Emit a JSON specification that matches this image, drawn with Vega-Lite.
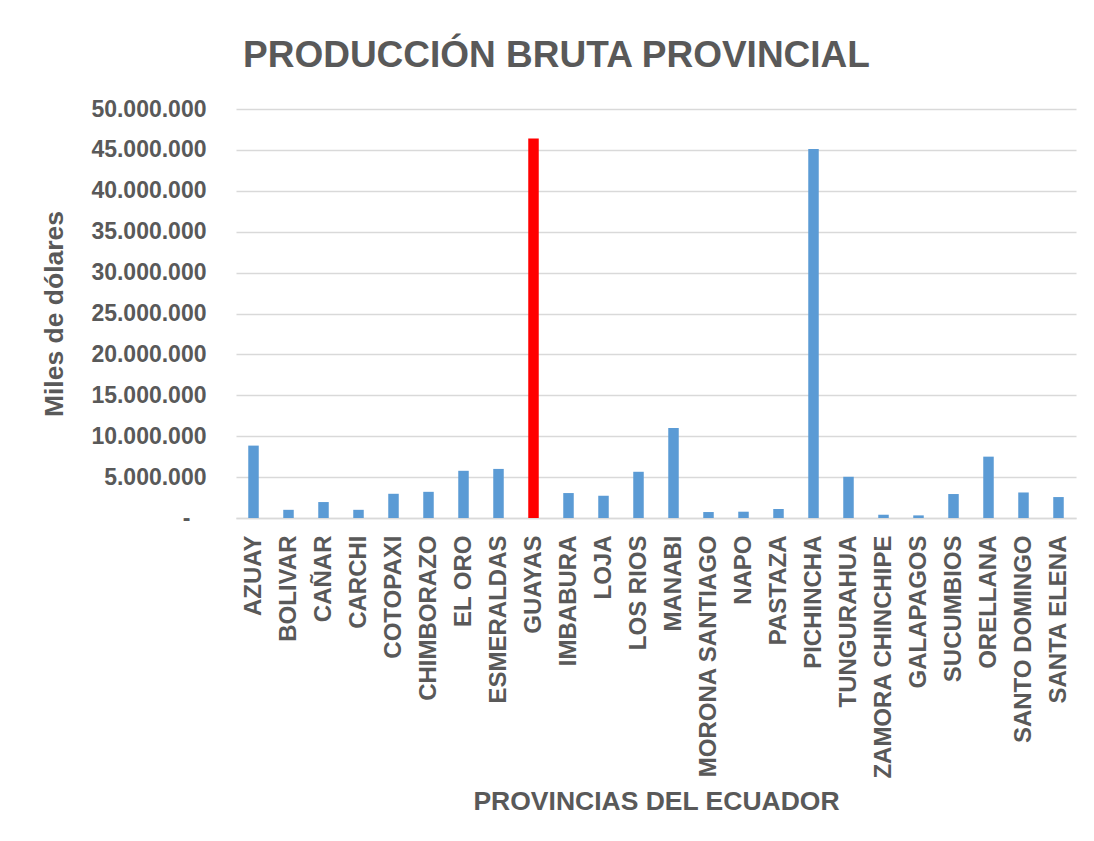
{
  "$schema": "https://vega.github.io/schema/vega-lite/v6.json",
  "width": 840,
  "height": 409,
  "autosize": {"type": "none"},
  "padding": {"left": 236, "top": 109, "right": 18, "bottom": 323},
  "background": "white",
  "config": {
    "locale": {"number": {"decimal": ",", "thousands": ".", "grouping": [3], "currency": ["$", ""]}},
    "view": {"stroke": null},
    "font": "Liberation Sans"
  },
  "title": {
    "text": "PRODUCCIÓN BRUTA PROVINCIAL",
    "font": "Liberation Sans",
    "fontSize": 37,
    "fontWeight": "bold",
    "color": "#595959",
    "anchor": "start",
    "frame": "group",
    "dx": 7,
    "offset": 23
  },
  "data": {
    "values": [
      {"provincia": "AZUAY", "valor": 8850000},
      {"provincia": "BOLIVAR", "valor": 1000000},
      {"provincia": "CAÑAR", "valor": 1950000},
      {"provincia": "CARCHI", "valor": 1000000},
      {"provincia": "COTOPAXI", "valor": 2960000},
      {"provincia": "CHIMBORAZO", "valor": 3200000},
      {"provincia": "EL ORO", "valor": 5770000},
      {"provincia": "ESMERALDAS", "valor": 6000000},
      {"provincia": "GUAYAS", "valor": 46400000},
      {"provincia": "IMBABURA", "valor": 3050000},
      {"provincia": "LOJA", "valor": 2720000},
      {"provincia": "LOS RIOS", "valor": 5650000},
      {"provincia": "MANABI", "valor": 11000000},
      {"provincia": "MORONA SANTIAGO", "valor": 730000},
      {"provincia": "NAPO", "valor": 770000},
      {"provincia": "PASTAZA", "valor": 1100000},
      {"provincia": "PICHINCHA", "valor": 45100000},
      {"provincia": "TUNGURAHUA", "valor": 5040000},
      {"provincia": "ZAMORA CHINCHIPE", "valor": 400000},
      {"provincia": "GALAPAGOS", "valor": 320000},
      {"provincia": "SUCUMBIOS", "valor": 2930000},
      {"provincia": "ORELLANA", "valor": 7500000},
      {"provincia": "SANTO DOMINGO", "valor": 3120000},
      {"provincia": "SANTA ELENA", "valor": 2560000}
    ]
  },
  "mark": {"type": "bar"},
  "encoding": {
    "x": {
      "field": "provincia",
      "type": "nominal",
      "sort": null,
      "scale": {"paddingInner": 0.7, "paddingOuter": 0.35},
      "axis": {
        "title": "PROVINCIAS DEL ECUADOR",
        "titleFont": "Liberation Sans",
        "titleFontSize": 26.5,
        "titleFontWeight": "bold",
        "titleColor": "#595959",
        "titlePadding": 70,
        "labelFont": "Liberation Sans",
        "labelFontSize": 24,
        "labelFontWeight": "bold",
        "labelColor": "#595959",
        "labelAngle": -90,
        "labelPadding": 17,
        "labelLimit": 400,
        "ticks": false,
        "domain": true,
        "domainColor": "#d9d9d9",
        "domainWidth": 1.5,
        "grid": false
      }
    },
    "y": {
      "field": "valor",
      "type": "quantitative",
      "scale": {"domain": [0, 50000000], "nice": false},
      "axis": {
        "title": "Miles de dólares",
        "titleFont": "Liberation Sans",
        "titleFontSize": 26.5,
        "titleFontWeight": "bold",
        "titleColor": "#595959",
        "titlePadding": 22,
        "labelFont": "Liberation Sans",
        "labelFontSize": 23,
        "labelFontWeight": "bold",
        "labelColor": "#595959",
        "labelPadding": {"condition": {"test": "datum.value == 0", "value": 46}, "value": 30},
        "labelExpr": "datum.value == 0 ? '-' : format(datum.value, ',')",
        "values": [0, 5000000, 10000000, 15000000, 20000000, 25000000, 30000000, 35000000, 40000000, 45000000, 50000000],
        "ticks": false,
        "domain": false,
        "grid": true,
        "gridColor": "#d9d9d9",
        "gridWidth": 1.5
      }
    },
    "color": {
      "condition": {"test": "datum.provincia == 'GUAYAS'", "value": "#ff0000"},
      "value": "#5b9bd5"
    }
  }
}
